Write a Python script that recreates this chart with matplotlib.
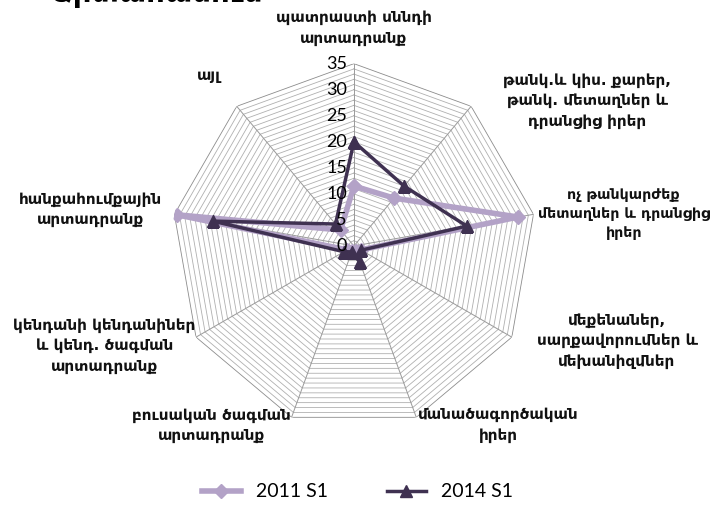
import numpy as np
import matplotlib
matplotlib.use('Agg')
import matplotlib.pyplot as plt
from matplotlib.lines import Line2D

# Ապրանքային խմբեր (ժամացույցի սլաքի ուղղությամբ, վերևից)
categories = [
    'պատրաստի սննդի\nարտադրանք',
    'թանկ.և կիս. քարեր,\nթանկ. մետաղներ և\nդրանցից իրեր',
    'ոչ թանկարժեք\nմետաղներ և դրանցից\nիրեր',
    'մեքենաներ,\nսարքավորումներ և\nմեխանիզմներ',
    'մանածագործական\nիրեր',
    'բուսական ծագման\nարտադրանք',
    'կենդանի կենդանիներ\nև կենդ. ծագման\nարտադրանք',
    'հանքահումքային\nարտադրանք',
    'այլ',
]
series_names = ['2011 S1', '2014 S1']
values_2011 = [11.5, 12, 32, 1.5, 1, 1, 1.5, 34.5, 4]
values_2014 = [20, 15, 22, 1.6, 3.3, 1.2, 2.2, 27.5, 5.5]
tick_values = [0, 5, 10, 15, 20, 25, 30, 35]

color_2011 = '#b3a2c7'
color_2014 = '#3f3151'

plt.rcParams['font.family'] = ['DejaVu Sans']

fig = plt.figure(figsize=(7.15, 5.29), dpi=100)
ax = fig.add_axes([0.24, 0.185, 0.51, 0.70], projection='polar')
ax.set_theta_zero_location('N')
ax.set_theta_direction(-1)

n = len(categories)
angles = np.arange(n) * 2 * np.pi / n
closed = np.append(angles, angles[0])

# многоугольная сетка через каждую единицу
for r in range(1, 36):
    ax.plot(closed, [r] * (n + 1), color='#b0b0b0' if r < 35 else '#8c8c8c',
            linewidth=0.6, zorder=1)
for a in angles:
    ax.plot([a, a], [0, 35], color='#9a9a9a', linewidth=0.7, zorder=1)

ax.grid(False)
ax.spines['polar'].set_visible(False)
ax.set_xticks([])
ax.set_yticks([])
ax.set_ylim(0, 35)

# подписи шкалы слева от вертикальной оси
for v in tick_values:
    ax.annotate(str(v), xy=(0, v), xytext=(-5, 0), textcoords='offset points',
                ha='right', va='center', fontsize=13, family='Lato', zorder=5)

v11 = np.append(values_2011, values_2011[0])
v14 = np.append(values_2014, values_2014[0])
ax.plot(closed, v11, color=color_2011, linewidth=4, marker='D', markersize=7,
        zorder=3, solid_joinstyle='round')
ax.plot(closed, v14, color=color_2014, linewidth=2.5, marker='^', markersize=9,
        zorder=4)

# подписи категорий: угол, радиус, выравнивание, размер
label_pos = [
    (0.0, 41.8, 'center', 11),
    (0.80, 40.0, 'left', 11),
    (1.40, 35.8, 'left', 10.3),
    (2.05, 39.5, 'left', 11),
    (2.80, 36.5, 'left', 11),
    (3.48, 36.5, 'right', 11),
    (4.15, 36.0, 'right', 11),
    (4.90, 37.5, 'right', 11),
    (5.62, 41.5, 'right', 11),
]
for text, (a, r, ha, fs) in zip(categories, label_pos):
    ax.text(a, r, text, ha=ha, va='center', fontsize=fs, fontweight='bold',
            multialignment='center', linespacing=1.45, color='#111111')

# обрезанный заголовок сверху
fig.text(0.07, 1.011, 'Արտահանում', ha='left', va='center', fontsize=21,
         fontweight='bold')

handles = [
    Line2D([], [], color=color_2011, linewidth=4, marker='D', markersize=7),
    Line2D([], [], color=color_2014, linewidth=2.5, marker='^', markersize=9),
]
fig.legend(handles, series_names, loc='center', bbox_to_anchor=(0.5, 0.07),
           ncol=2, frameon=False, handlelength=2.0, columnspacing=3.0,
           prop={'family': 'Lato', 'size': 14})

fig.savefig('out.png', dpi=100)
